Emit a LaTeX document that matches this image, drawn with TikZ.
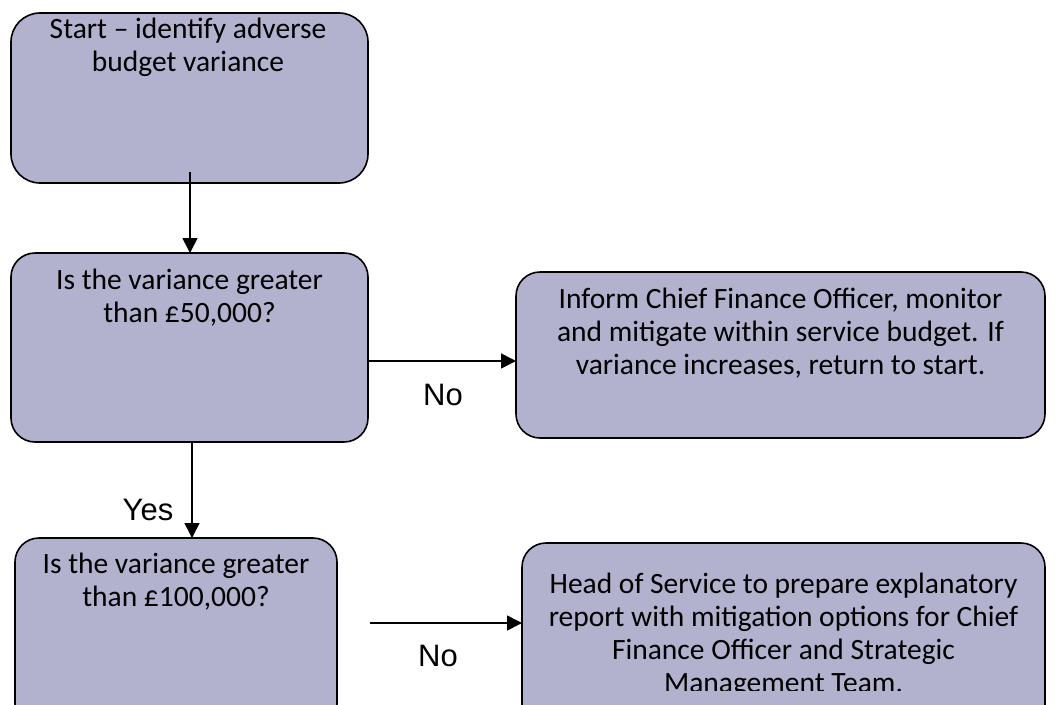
\documentclass[tikz,border=0pt]{standalone}
\usepackage{fontspec}
\setmainfont{Carlito}
\newfontfamily\labelfont{Liberation Sans}
\usetikzlibrary{arrows.meta}
\definecolor{boxfill}{RGB}{178,178,207}
\tikzset{
  box/.style={draw=black, line width=1.6pt, fill=boxfill, rounded corners=24pt, inner sep=0pt, outer sep=0pt},
  boxtext/.style={inner sep=0pt, align=center, font=\fontsize{29.5}{33}\selectfont, anchor=base},
  lbl/.style={inner sep=0pt, font=\labelfont\fontsize{31}{33}\selectfont},
  arr/.style={line width=1.6pt, -{Triangle[width=15pt,length=15pt]}}
}
\begin{document}
\begin{tikzpicture}[x=1pt,y=-1pt]
\useasboundingbox (0,0) rectangle (1056,704);
\clip (0,0) rectangle (1056,704);
% boxes
\node[box, rounded corners=29pt, minimum width=357pt, minimum height=170pt] (b1) at (189.5,98) {};
\node[box, minimum width=357pt, minimum height=189pt] (b2) at (189.5,347.5) {};
\node[box, minimum width=529pt, minimum height=166pt] (r1) at (780.5,355) {};
\node[box, minimum width=322pt, minimum height=190pt] (b3) at (176,633) {};
\node[box, minimum width=523pt, minimum height=190pt] (r2) at (783.5,638) {};
% texts (anchored at the baseline of the last line)
\node[boxtext] (t1) at (188,71) {Start -- identify adverse\\budget variance};
\node[boxtext] (t2) at (189.5,322) {Is the variance greater\\than \pounds50,000?};
\node[boxtext] (t3) at (780.5,374) {Inform Chief Finance Officer, monitor\\and mitigate within service budget. If\\variance increases, return to start.};
\node[boxtext] (t4) at (176,606) {Is the variance greater\\than \pounds100,000?};
\begin{scope}
\clip (520,540) rectangle (1050,690);
\node[boxtext] (t5) at (783.5,692) {Head of Service to prepare explanatory\\report with mitigation options for Chief\\Finance Officer and Strategic\\Management Team.};
\end{scope}
% connectors
\coordinate (a1s) at (190,172);
\draw[arr] (a1s) -- (a1s |- b2.north);
\coordinate (a2s) at (192,442);
\draw[arr] (a2s) -- (a2s |- b3.north);
\coordinate (h1s) at (368,361);
\draw[arr] (h1s) -- (h1s -| r1.west);
\coordinate (h2s) at (370,623);
\draw[arr] (h2s) -- (h2s -| r2.west);
% labels
\node[lbl] (no1) at (443,395) {No};
\node[lbl] (yes) at (148,510) {Yes};
\node[lbl] (no2) at (438,656) {No};
\end{tikzpicture}
\end{document}
